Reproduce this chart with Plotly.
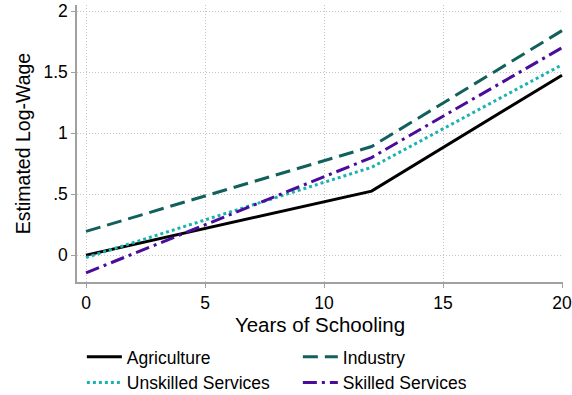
import plotly.graph_objects as go

years = [0, 12, 20]
series_names = ["Agriculture", "Industry", "Unskilled Services", "Skilled Services"]
agriculture = [0.0, 0.525, 1.475]
industry = [0.195, 0.89, 1.84]
unskilled = [-0.02, 0.72, 1.56]
skilled = [-0.145, 0.80, 1.70]

x_ticks = [0, 5, 10, 15, 20]
y_ticks = [0, 0.5, 1, 1.5, 2]
y_tick_labels = ["0", ".5", "1", "1.5", "2"]

styles = [
    dict(color="#000000", dash="solid"),
    dict(color="#11605b", dash="15px,7px"),
    dict(color="#1ab3b0", dash="3px,3px"),
    dict(color="#4a0c9a", dash="14px,5px,3px,5px"),
]

fig = go.Figure()
for name, vals, st in zip(series_names, [agriculture, industry, unskilled, skilled], styles):
    fig.add_trace(go.Scatter(
        x=years, y=vals, mode="lines", name=name,
        line=dict(color=st["color"], dash=st["dash"], width=3),
    ))

font_family = "Liberation Sans, Arial, Helvetica, sans-serif"
fig.update_layout(
    width=572, height=395,
    margin=dict(l=77, r=9, t=5, b=113),
    paper_bgcolor="white", plot_bgcolor="white",
    font=dict(family=font_family, color="#000000", size=17.5),
    legend=dict(
        orientation="h", x=0.01, xanchor="left", xref="paper",
        y=0.142, yanchor="top", yref="container",
        font=dict(size=17.5), entrywidth=166, entrywidthmode="pixels",
        tracegroupgap=0, itemwidth=35,
    ),
    xaxis=dict(
        range=[-0.378, 20.042], tickvals=x_ticks, automargin=False,
        showgrid=True, gridcolor="#c4c4c4", griddash="1px,2px", gridwidth=1,
        showline=True, linecolor="#a0a0a0", linewidth=1.5,
        ticks="outside", ticklen=4, tickcolor="#a0a0a0",
        zeroline=False, tickfont=dict(size=17.5),
        title=dict(text="Years of Schooling", font=dict(size=20.5), standoff=0),
    ),
    yaxis=dict(
        range=[-0.22, 2.05], tickvals=y_ticks, ticktext=y_tick_labels, automargin=False,
        showgrid=True, gridcolor="#c4c4c4", griddash="1px,2px", gridwidth=1,
        showline=True, linecolor="#a0a0a0", linewidth=1.5,
        ticks="outside", ticklen=4, tickcolor="#a0a0a0",
        zeroline=False, tickfont=dict(size=17.5),
        title=dict(text="Estimated Log-Wage", font=dict(size=19.5), standoff=8),
    ),
)

fig.write_html("out.html", config={"displayModeBar": False},
               post_script="document.body.style.margin='0';")
